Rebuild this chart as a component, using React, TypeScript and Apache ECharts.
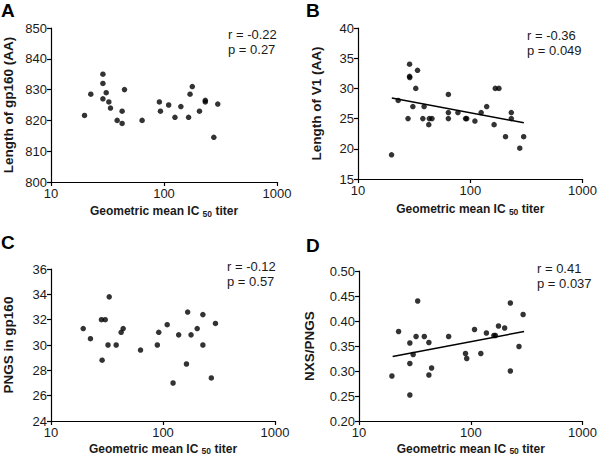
import React, { useEffect, useRef } from "react";
import * as echarts from "echarts";

// Panel A: Length of gp160 (AA)
const xA = [19.8, 22.5, 28.8, 28.8, 28.8, 30.8, 32.5, 33.6, 38.5, 42.6, 42.6, 44.7, 64, 91, 93, 110, 125, 141, 165, 170, 178, 206, 232, 232, 276, 299];
const yA = [821.6, 828.5, 835, 832, 827, 829, 826, 824, 820, 823, 819, 830, 820, 826, 823, 825, 821, 824.5, 821, 828.5, 831, 823, 826.5, 826, 814.5, 825.3];

// Panel B: Length of V1 (AA)
const xB = [19.9, 22.8, 27.9, 28.8, 28.8, 28.9, 30.8, 32.7, 33.9, 37.8, 38.8, 42.7, 43.2, 45.6, 63.8, 63.8, 63.8, 77.6, 90.8, 93, 110, 125, 140, 163, 167, 180, 206, 232, 232, 276, 299];
const yB = [19, 28, 25, 34, 32, 31.8, 27, 30, 33, 25, 27, 24, 25, 25, 29, 26, 25, 26, 25, 25, 24.6, 26, 27, 24, 30, 30, 22, 26, 25, 20.1, 22];
const fitBx = [20, 300];
const fitBy = [28.4, 24.3];

// Panel C: PNGS in gp160
const xC = [19.4, 22.5, 28.2, 28.6, 30.5, 32.3, 33.1, 38.2, 42.3, 44.1, 63, 89, 91.6, 109, 123, 138, 162, 166, 178, 202, 227, 227, 270, 294];
const yC = [31.3, 30.5, 32, 28.8, 32, 30, 33.8, 30, 31, 31.3, 29.6, 30, 31, 31.6, 27, 30.8, 28.5, 32.6, 30.8, 31.3, 32.4, 30, 27.4, 31.7];

// Panel D: NXS/PNGS
const xD = [19.7, 22.6, 28.5, 28.5, 28.5, 30.5, 32.4, 33.5, 38.4, 42.2, 42.2, 44.6, 63.4, 89.7, 92, 108, 123, 138, 161, 166, 177, 201, 226, 226, 270, 294];
const yD = [0.29, 0.379, 0.356, 0.315, 0.252, 0.333, 0.369, 0.44, 0.369, 0.357, 0.292, 0.306, 0.369, 0.335, 0.325, 0.383, 0.335, 0.376, 0.371, 0.371, 0.39, 0.386, 0.436, 0.3, 0.349, 0.413];
const fitDx = [20, 300];
const fitDy = [0.329, 0.379];

const panelLetters = ["A", "B", "C", "D"];
const yTitles = ["Length of gp160 (AA)", "Length of V1 (AA)", "PNGS in gp160", "NXS/PNGS"];
const statsR = ["r = -0.22", "r = -0.36", "r = -0.12", "r = 0.41"];
const statsP = ["p = 0.27", "p = 0.049", "p = 0.57", "p = 0.037"];
const yMins = [800, 15, 24, 0.2];
const yMaxs = [850, 40, 36, 0.5];
const yIntervals = [10, 5, 2, 0.05];
const xMin = 10;
const xMax = 1000;

const FONT = "'Liberation Sans', Arial, Helvetica, sans-serif";
const INK = "#1a1a1a";

const grids = [
  { left: 49, top: 28, width: 228, height: 154 },
  { left: 358, top: 28, width: 228, height: 151 },
  { left: 48, top: 269, width: 227, height: 152 },
  { left: 359, top: 271, width: 226, height: 150 },
];
const yNameGaps = [36, 35, 36, 43];
const xNameGaps = [23, 24, 19, 18];
const letterPos = [[1, 1], [306, 1], [1, 233], [306, 236]];
const statPos = [[228, 34], [527, 35], [227, 266], [537, 268]];

function zip(xs: number[], ys: number[]) {
  return xs.map((x, i) => [x, ys[i]]);
}

export default function App() {
  const ref = useRef<HTMLDivElement>(null);
  useEffect(() => {
    document.body.style.margin = "0";
    const chart = echarts.init(ref.current!, null, { renderer: "svg" });
    const xAxes = grids.map((_, i) => ({
      type: "log",
      logBase: 10,
      gridIndex: i,
      min: xMin,
      max: xMax,
      name: "{m|Geometric mean IC }{s|50}{m| titer}",
      nameLocation: "middle",
      nameGap: xNameGaps[i],
      nameTextStyle: {
        fontFamily: FONT,
        fontWeight: "bold",
        fontSize: 12,
        color: INK,
        verticalAlign: "top",
        rich: {
          m: { fontFamily: FONT, fontWeight: "bold", fontSize: 12, color: INK, lineHeight: 13, verticalAlign: "top" },
          s: { fontFamily: FONT, fontWeight: "bold", fontSize: 8.5, color: INK, lineHeight: 9, verticalAlign: "bottom", padding: [7, 0, 0, 0] },
        },
      },
      axisLine: { show: true, onZero: false, lineStyle: { color: "#000", width: 1.2 } },
      axisTick: { show: true, length: 4, lineStyle: { color: "#000", width: 1.2 } },
      minorTick: { show: false },
      splitLine: { show: false },
      axisLabel: { fontFamily: FONT, fontSize: 13, color: INK, margin: 5, formatter: (v: number) => String(Math.round(v)) },
    }));
    const yAxes = grids.map((_, i) => ({
      type: "value",
      gridIndex: i,
      min: yMins[i],
      max: yMaxs[i],
      interval: yIntervals[i],
      name: yTitles[i],
      nameLocation: "middle",
      nameGap: yNameGaps[i],
      nameTextStyle: { fontFamily: FONT, fontWeight: "bold", fontSize: 13.5, color: INK },
      axisLine: { show: true, onZero: false, lineStyle: { color: "#000", width: 1.2 } },
      axisTick: { show: true, length: 4, lineStyle: { color: "#000", width: 1.2 } },
      splitLine: { show: false },
      axisLabel: {
        fontFamily: FONT,
        fontSize: 13,
        color: INK,
        margin: 4,
        formatter: (v: number) => (i === 3 ? v.toFixed(2) : String(Math.round(v))),
      },
    }));
    const scatterData = [zip(xA, yA), zip(xB, yB), zip(xC, yC), zip(xD, yD)];
    const series: any[] = scatterData.map((d, i) => ({
      type: "scatter",
      xAxisIndex: i,
      yAxisIndex: i,
      data: d,
      symbol: "circle",
      symbolSize: 5.5,
      itemStyle: { color: "#000" },
      z: 3,
    }));
    series.push({
      type: "line",
      xAxisIndex: 1,
      yAxisIndex: 1,
      data: zip(fitBx, fitBy),
      symbol: "none",
      lineStyle: { color: "#000", width: 1.5 },
      z: 2,
    });
    series.push({
      type: "line",
      xAxisIndex: 3,
      yAxisIndex: 3,
      data: zip(fitDx, fitDy),
      symbol: "none",
      lineStyle: { color: "#000", width: 1.5 },
      z: 2,
    });
    const graphic: any[] = [];
    panelLetters.forEach((L, i) => {
      graphic.push({
        type: "text",
        x: letterPos[i][0],
        y: letterPos[i][1],
        style: { text: L, fontFamily: FONT, fontWeight: "bold", fontSize: 19, fill: "#000", verticalAlign: "top", align: "left" },
      });
      graphic.push({
        type: "text",
        x: statPos[i][0],
        y: statPos[i][1],
        style: { text: statsR[i], fontFamily: FONT, fontSize: 13, fill: INK, verticalAlign: "middle", align: "left" },
      });
      graphic.push({
        type: "text",
        x: statPos[i][0],
        y: statPos[i][1] + 15,
        style: { text: statsP[i], fontFamily: FONT, fontSize: 13, fill: INK, verticalAlign: "middle", align: "left" },
      });
    });
    chart.setOption({
      animation: false,
      backgroundColor: "#fff",
      grid: grids.map((g) => ({ ...g, containLabel: false })),
      xAxis: xAxes,
      yAxis: yAxes,
      series,
      graphic,
    });
    return () => chart.dispose();
  }, []);
  return <div ref={ref} style={{ width: 600, height: 458, position: "absolute", left: 0, top: 0 }} />;
}
